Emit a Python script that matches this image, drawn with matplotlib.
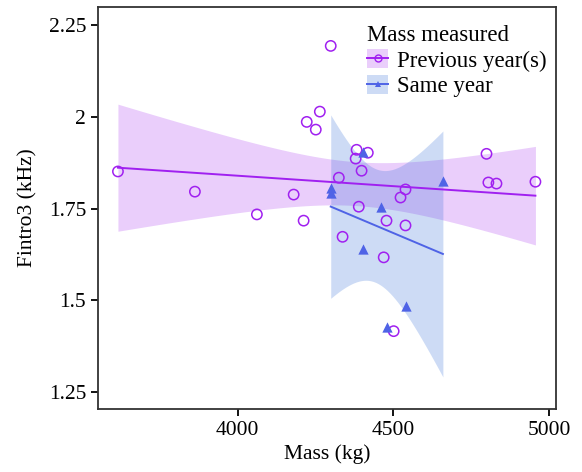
import numpy as np
import matplotlib.pyplot as plt
from matplotlib.patches import Patch
from matplotlib.lines import Line2D

plt.rcParams['font.family'] = ['Liberation Serif', 'DejaVu Serif']

# mass measured in previous year(s)
prev_mass = [3616, 3863, 4062, 4180, 4212, 4222, 4251, 4264, 4299, 4325, 4337,
             4382, 4418, 4379, 4398, 4389, 4478, 4539, 4539, 4523, 4469, 4501,
             4799, 4805, 4831, 4956]
prev_f = [1.851, 1.796, 1.734, 1.788, 1.717, 1.986, 1.965, 2.014, 2.193, 1.834, 1.673,
          1.910, 1.902, 1.886, 1.853, 1.755, 1.717, 1.704, 1.802, 1.780, 1.617, 1.416,
          1.899, 1.821, 1.818, 1.823]

# mass measured in the same year
same_mass = [4299, 4299, 4402, 4402, 4659, 4459, 4539, 4478]
same_f = [1.807, 1.791, 1.905, 1.639, 1.826, 1.753, 1.484, 1.427]

# two-sided 95% t critical values by degrees of freedom
T975 = {6: 2.4469, 24: 2.0639}

PURPLE = "#A020F0"
BLUE = "#4F63E6"
BLUE_FILL = "#3A72D8"


def lm_band(x, y):
    x = np.asarray(x, float)
    y = np.asarray(y, float)
    n = len(x)
    b, a = np.polyfit(x, y, 1)
    res = y - (a + b * x)
    s = np.sqrt(np.sum(res ** 2) / (n - 2))
    sxx = np.sum((x - x.mean()) ** 2)
    xs = np.linspace(x.min(), x.max(), 200)
    fit = a + b * xs
    se = s * np.sqrt(1 / n + (xs - x.mean()) ** 2 / sxx)
    t = T975[n - 2]
    return xs, fit, fit - t * se, fit + t * se


fig = plt.figure(figsize=(5.82, 4.72), dpi=100)
ax = fig.add_axes([0.1684, 0.1335, 0.7869, 0.8517])

xs, fit, lo, hi = lm_band(prev_mass, prev_f)
ax.fill_between(xs, lo, hi, color=PURPLE, alpha=0.22, linewidth=0)
ax.plot(xs, fit, color=PURPLE, linewidth=1.4)

xs2, fit2, lo2, hi2 = lm_band(same_mass, same_f)
ax.fill_between(xs2, lo2, hi2, color=BLUE_FILL, alpha=0.25, linewidth=0)
ax.plot(xs2, fit2, color=BLUE, linewidth=1.4)

ax.scatter(prev_mass, prev_f, s=55, facecolors="none", edgecolors=PURPLE, linewidths=1.1, zorder=3)
ax.scatter(same_mass, same_f, s=55, marker="^", color=BLUE, linewidths=0, zorder=3)

ax.set_xlim(3552, 5022)
ax.set_ylim(1.204, 2.299)
ax.set_xticks([4000, 4500, 5000])
ax.set_yticks([1.25, 1.5, 1.75, 2, 2.25])
ax.set_yticklabels(["1.25", "1.5", "1.75", "2", "2.25"])
ax.tick_params(direction="out", length=5, width=1.3, labelsize=15.5, colors="black")
for sp in ax.spines.values():
    sp.set_color("#333333")
    sp.set_linewidth(1.3)

ax.set_xlabel("Mass (kg)", fontsize=15.5, labelpad=3)
ax.set_ylabel("Fintro3 (kHz)", fontsize=15.5, labelpad=8)

h_prev = (Patch(facecolor=PURPLE, alpha=0.22, linewidth=0),
          Line2D([], [], color=PURPLE, linewidth=1.4, marker="o", markersize=5,
                 markerfacecolor="none", markeredgecolor=PURPLE))
h_same = (Patch(facecolor=BLUE_FILL, alpha=0.25, linewidth=0),
          Line2D([], [], color=BLUE, linewidth=1.4, marker="^", markersize=5,
                 markeredgewidth=0))
leg = ax.legend([h_prev, h_same], ["Previous year(s)", "Same year"],
                title="Mass measured", loc="upper right", bbox_to_anchor=(1.01, 0.99),
                frameon=False, fontsize=16.5, title_fontsize=16.5, alignment="left",
                handlelength=0.9, handleheight=0.9, handletextpad=0.4,
                labelspacing=0.15, borderaxespad=0.2)

fig.savefig("out.png", dpi=100)
